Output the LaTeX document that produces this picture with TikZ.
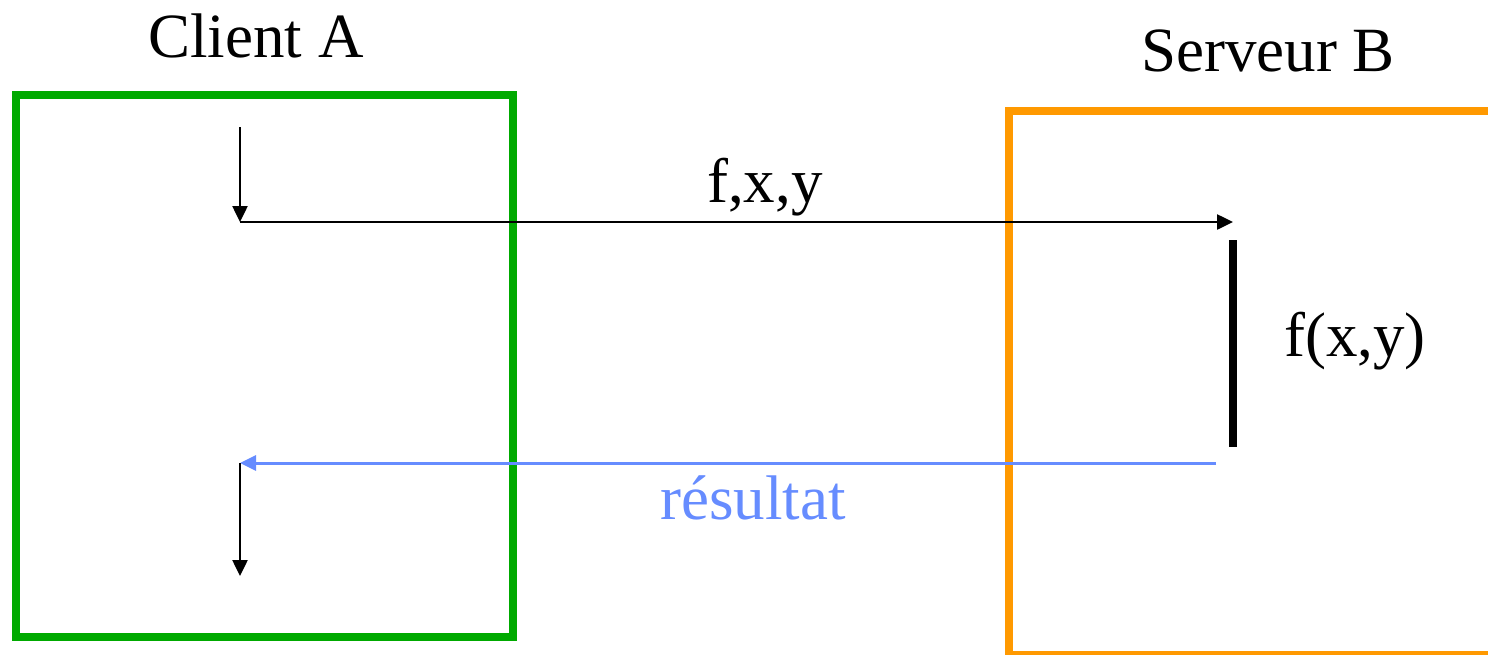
\documentclass[tikz,border=0pt]{standalone}
\usepackage{fontspec}
\setmainfont{Liberation Serif}
\usetikzlibrary{arrows.meta}
\definecolor{cgreen}{RGB}{0,170,0}
\definecolor{corange}{RGB}{255,153,0}
\definecolor{cblue}{RGB}{102,140,255}
\begin{document}
\begin{tikzpicture}[x=1pt,y=-1pt,
  lbl/.style={font=\fontsize{63}{70}\selectfont, inner sep=0pt, anchor=base},
  flow/.style={line width=2.5pt, -{Triangle[length=16pt,width=15pt]}},
  boxline/.style={line width=8pt}]
\useasboundingbox (0,0) rectangle (1488,654);
\begin{scope}
\clip (0,0) rectangle (1488,654);
\draw[boxline, cgreen] (16,95) rectangle (513,637);
\draw[boxline, corange] (1009,111) rectangle (1600,655);
\end{scope}
\node[lbl] (ca) at (256,57) {Client A};
\node[lbl] (sb) at (1268,71) {Serveur B};
\coordinate (a0) at (240,127);
\coordinate (a1) at (240,222);
\coordinate (b1) at (1233,222);
\coordinate (c0) at (1233,240);
\coordinate (c1) at (1233,447);
\coordinate (d0) at (1216,463);
\coordinate (d1) at (240,463);
\coordinate (e1) at (240,576);
\draw[flow] (a0) -- (a1);
\draw[flow] (a1) -- (b1);
\draw[line width=8pt] (c0) -- (c1);
\draw[flow, cblue, line width=3pt] (d0) -- (d1);
\draw[flow] (d1) -- (e1);
\node[lbl] (fxy) at (765,202) {f,x,y};
\node[lbl] (fres) at (1355,356) {f(x,y)};
\node[lbl, text=cblue] (res) at (753,519) {résultat};
\end{tikzpicture}
\end{document}
